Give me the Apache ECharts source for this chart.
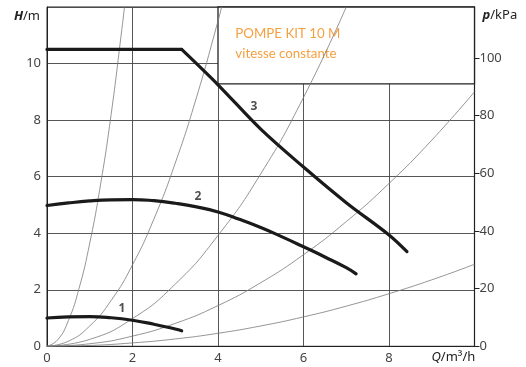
<!DOCTYPE html>
<html><head><meta charset="utf-8">
<script src="https://cdn.jsdelivr.net/npm/echarts@6/dist/echarts.min.js"></script>
<style>html,body{margin:0;padding:0;background:#fff}#c{width:526px;height:367px}</style>
</head><body><div id="c"></div>
<script>
// Pump curves (Q in m3/h, H in m)
const curve1Q = [0, 0.5, 1, 1.5, 2, 2.5, 3, 3.15];
const curve1H = [1.0, 1.04, 1.05, 1.01, 0.92, 0.78, 0.61, 0.55];
const curve2Q = [0, 0.5, 1, 1.5, 2, 2.5, 3, 3.5, 4, 4.5, 5, 5.5, 6, 6.5, 7, 7.23];
const curve2H = [4.98, 5.07, 5.14, 5.18, 5.19, 5.15, 5.06, 4.93, 4.75, 4.49, 4.2, 3.87, 3.52, 3.16, 2.78, 2.56];
const curve3Q = [0, 3.15, 4, 5, 6, 7, 8, 8.42];
const curve3H = [10.5, 10.5, 9.25, 7.68, 6.34, 5.08, 3.94, 3.35];
// System curves (thin)
const sysAQ = [0, 0.25, 0.5, 0.75, 1, 1.25, 1.5, 1.75, 1.82];
const sysAH = [0, 0.23, 0.91, 2.05, 3.65, 5.7, 8.2, 11.2, 12.1];
const sysBQ = [0, 0.5, 1, 1.5, 2, 2.5, 3, 3.5, 4, 4.1];
const sysBH = [0, 0.18, 0.72, 1.62, 2.88, 4.5, 6.48, 8.82, 11.5, 12.1];
const sysCQ = [0, 1, 2, 3, 4, 5, 6, 7];
const sysCH = [0, 0.245, 0.98, 2.2, 3.92, 6.1, 8.8, 12.0];
const sysDQ = [0, 1, 2, 3, 4, 5, 6, 7, 8, 9, 10];
const sysDH = [0, 0.09, 0.36, 0.81, 1.44, 2.25, 3.24, 4.41, 5.76, 7.29, 9.0];
const sysEQ = [0, 1, 2, 3, 4, 5, 6, 7, 8, 9, 10];
const sysEH = [0, 0.03, 0.12, 0.26, 0.46, 0.72, 1.04, 1.42, 1.86, 2.35, 2.9];
// Curve labels
const labelNames = ['1', '2', '3'];
const labelQ = [1.75, 3.53, 4.84];
const labelH = [1.32, 5.29, 8.47];
// Axis ticks
const xTicks = [0, 2, 4, 6, 8];
const hTicks = [0, 2, 4, 6, 8, 10];
const pTicks = [0, 20, 40, 60, 80, 100];
const titleLines = ['POMPE KIT 10 M', 'vitesse constante'];

const zip = (a, b) => a.map((v, i) => [v, b[i]]);
const font = '"Noto Sans", sans-serif';
const thin = (q, h) => ({type: 'line', data: zip(q, h), smooth: true, symbol: 'none', z: 2,
  lineStyle: {color: '#7a7a7a', width: 0.8}, silent: true});
const thick = (data, smooth) => ({type: 'line', data: data, smooth: smooth, symbol: 'none', z: 6,
  lineStyle: {color: '#1a1a1a', width: 3.2, cap: 'round', join: 'round'}, silent: true});
const c3 = zip(curve3Q, curve3H);

const chart = echarts.init(document.getElementById('c'));
chart.setOption({
  animation: false,
  backgroundColor: '#fff',
  grid: {left: 47, right: 51.5, top: 7, bottom: 20.7, show: true, borderColor: '#222', borderWidth: 1,
    containLabel: false, outerBoundsMode: 'none'},
  xAxis: {type: 'value', min: 0, max: 10, interval: 2,
    name: '{i|Q}/m³/h', nameLocation: 'end', nameGap: -43, nameMoveOverlap: false,
    nameTextStyle: {align: 'left', verticalAlign: 'top', padding: [4, 0, 0, 0], fontFamily: font, fontSize: 13, color: '#222',
      rich: {i: {fontStyle: 'italic', fontFamily: font, fontSize: 13, color: '#222'}}},
    axisLine: {lineStyle: {color: '#222', width: 1}}, axisTick: {show: false},
    axisLabel: {showMaxLabel: false, margin: 5, fontFamily: font, fontSize: 13, color: '#444',
      formatter: v => xTicks.includes(v) ? String(v) : ''},
    splitLine: {show: true, lineStyle: {color: '#444', width: 0.9}}},
  yAxis: [
    {type: 'value', min: 0, max: 12, interval: 2, position: 'left',
      name: '{i|H}/m', nameLocation: 'end', nameGap: 0,
      nameTextStyle: {align: 'right', verticalAlign: 'top', padding: [3, 7, 0, 0], fontFamily: font, fontSize: 13, color: '#222',
        rich: {i: {fontStyle: 'italic', fontWeight: 'bold', fontFamily: font, fontSize: 13, color: '#222'}}},
      axisLine: {show: true, lineStyle: {color: '#222', width: 1}}, axisTick: {show: false},
      axisLabel: {showMaxLabel: false, margin: 6, fontFamily: font, fontSize: 13, color: '#444',
        formatter: v => hTicks.includes(v) ? String(v) : ''},
      splitLine: {show: true, lineStyle: {color: '#444', width: 0.9}}},
    {type: 'value', min: 0, max: 117.72, interval: 20, position: 'right',
      name: '{i|p}/kPa', nameLocation: 'end', nameGap: 0,
      nameTextStyle: {align: 'left', verticalAlign: 'top', padding: [2, 0, 0, 8], fontFamily: font, fontSize: 13, color: '#222',
        rich: {i: {fontStyle: 'italic', fontWeight: 'bold', fontFamily: font, fontSize: 13, color: '#222'}}},
      axisLine: {show: true, lineStyle: {color: '#222', width: 1.2}},
      axisTick: {show: true, length: 5, lineStyle: {color: '#222'}},
      axisLabel: {showMaxLabel: false, margin: 5, fontFamily: font, fontSize: 13, color: '#444',
        formatter: v => pTicks.includes(v) ? String(v) : ''},
      splitLine: {show: false}}
  ],
  series: [
    thin(sysAQ, sysAH), thin(sysBQ, sysBH), thin(sysCQ, sysCH), thin(sysDQ, sysDH), thin(sysEQ, sysEH),
    {type: 'line', data: [], z: 4, silent: true,
      markArea: {silent: true,
        itemStyle: {color: '#fff', borderColor: '#222', borderWidth: 1.3},
        label: {show: true, position: 'insideTopLeft', distance: 0, padding: [17, 0, 0, 18],
          formatter: titleLines.join('\n'), fontFamily: 'Lato, "Open Sans", sans-serif', fontSize: 13.3, lineHeight: 20, color: '#f5a040'},
        data: [[{coord: [4, 9.28]}, {coord: [10, 12]}]]}},
    thick(zip(curve1Q, curve1H), true), thick(zip(curve2Q, curve2H), true),
    thick(c3.slice(0, 2), false), thick(c3.slice(1), 0.35),
    {type: 'scatter', z: 7, symbolSize: 0, silent: true,
      data: labelNames.map((n, i) => ({name: n, value: [labelQ[i], labelH[i]]})),
      label: {show: true, position: 'inside', formatter: p => p.name, fontFamily: font, fontWeight: 'bold', fontSize: 12, color: '#222'}}
  ]
});
</script></body></html>
